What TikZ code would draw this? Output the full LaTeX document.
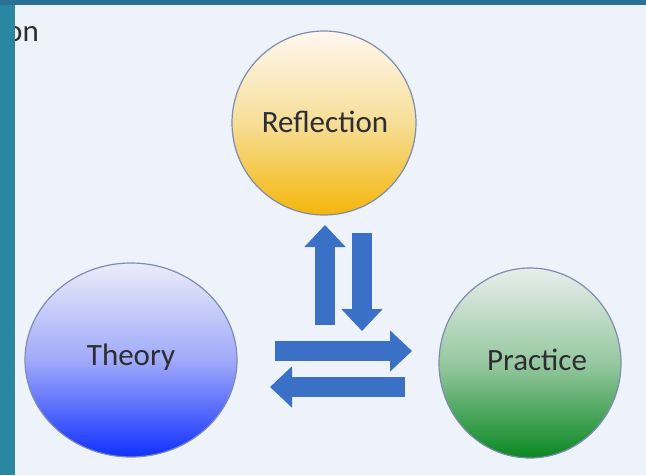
\documentclass[tikz,border=0pt]{standalone}
\usepackage{fontspec}
\setmainfont{Carlito}
\usetikzlibrary{arrows.meta}
\definecolor{bgc}{RGB}{238,242,250}
\definecolor{sidec}{RGB}{43,134,162}
\definecolor{topc}{RGB}{40,112,148}
\definecolor{arrc}{RGB}{58,112,198}
\definecolor{rimc}{RGB}{125,140,175}
\definecolor{txtc}{RGB}{45,45,50}
\tikzset{
  lbl/.style={font=\fontsize{31}{34}\selectfont, text=txtc},
  blockarrow/.style={draw=arrc, line width=20pt, line cap=butt,
     -{Triangle[length=22pt,width=40pt]}},
}
\begin{document}
\begin{tikzpicture}[x=1pt,y=-1pt]
\useasboundingbox (0,0) rectangle (646,475);
\fill[bgc] (0,0) rectangle (646,475);
% cut-off title text
\node[lbl, anchor=base west, inner sep=0pt] (title) at (6,41) {on};
\fill[sidec] (0,0) rectangle (15,475);
\fill[topc] (0,0) rectangle (646,5);
% circles
\path[draw=rimc, line width=1.2pt, top color=white!94!orange, bottom color={rgb,255:red,244;green,182;blue,10}, middle color={rgb,255:red,246;green,222;blue,150}]
  (324,123) ellipse [x radius=92, y radius=92];
\path[draw=rimc, line width=1.2pt, top color={rgb,255:red,234;green,236;blue,248}, bottom color={rgb,255:red,16;green,48;blue,255}, middle color={rgb,255:red,160;green,170;blue,250}]
  (131,360) ellipse [x radius=106, y radius=97];
\path[draw=rimc, line width=1.2pt, top color={rgb,255:red,232;green,238;blue,236}, bottom color={rgb,255:red,10;green,136;blue,34}, middle color={rgb,255:red,150;green,200;blue,160}]
  (530,363) ellipse [x radius=91, y radius=95];
\node[lbl] (refl) at (325,122) {Reflection};
\node[lbl] (theo) at (131,357) {Theory};
\node[lbl] (prac) at (537,360) {Practice};
% arrows
\coordinate (u1) at (325,325); \coordinate (u2) at (325,225);
\coordinate (d1) at (362,233); \coordinate (d2) at (362,331);
\coordinate (r1) at (275,351); \coordinate (r2) at (412,351);
\coordinate (l1) at (405,387); \coordinate (l2) at (270,387);
\draw[blockarrow] (u1) -- (u2);
\draw[blockarrow] (d1) -- (d2);
\draw[blockarrow] (r1) -- (r2);
\draw[blockarrow] (l1) -- (l2);
\end{tikzpicture}
\end{document}
